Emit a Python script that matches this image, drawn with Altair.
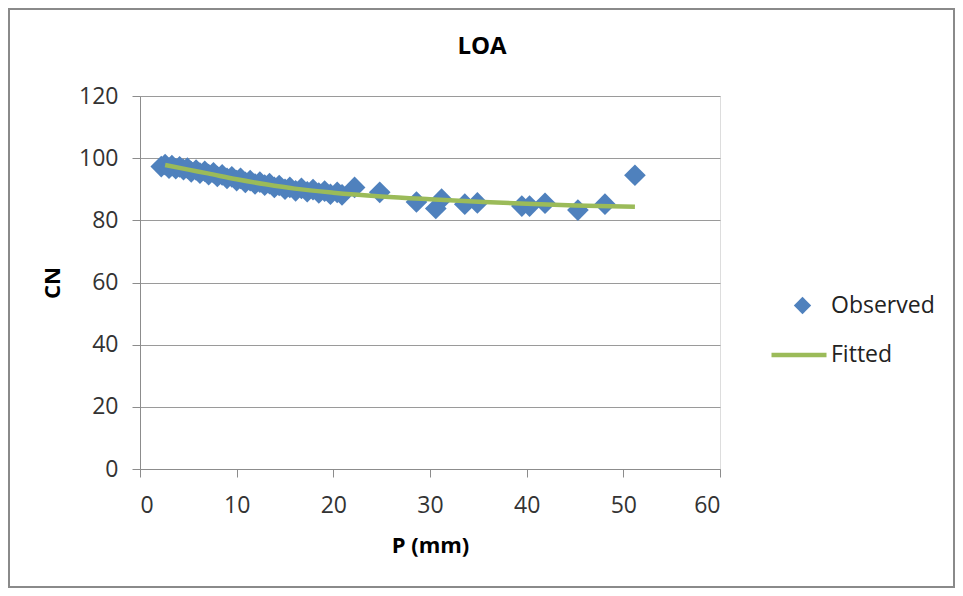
import altair as alt
import pandas as pd

# Observed points (P in mm, CN)
obs_p = [2.2, 2.6, 3.0, 3.3, 3.7, 4.1, 4.5, 4.9, 5.3, 5.8, 6.2, 6.7, 7.1, 7.6, 8.0,
         8.5, 9.0, 9.5, 10.0, 10.4, 10.9, 11.4, 11.9, 12.4, 12.9, 13.4, 13.9, 14.4,
         15.0, 15.5, 16.1, 16.7, 17.3, 17.9, 18.5, 19.1, 19.7, 20.4, 20.9, 22.2,
         24.8, 28.6, 30.6, 31.2, 33.6, 34.9, 39.5, 40.3, 41.9, 45.3, 48.1, 51.2]
obs_cn = [97.3, 97.9, 96.8, 97.6, 96.6, 97.2, 96.3, 96.8, 95.6, 96.2, 95.2, 95.8, 94.7,
          95.3, 94.1, 94.6, 93.5, 94.0, 92.8, 93.5, 92.2, 92.8, 91.7, 92.3, 91.3, 91.8,
          90.6, 91.2, 90.0, 90.6, 89.5, 90.3, 89.2, 89.9, 88.8, 89.4, 88.4, 89.0, 88.2,
          90.6, 89.0, 85.9, 83.8, 86.8, 85.2, 85.6, 84.6, 84.6, 85.5, 83.3, 85.2, 94.5]

# Fitted curve
fit_p = [2.6, 5, 7, 10, 13, 16, 20, 25, 30, 35, 40, 45, 51.2]
fit_cn = [97.8, 96.3, 95.1, 93.2, 91.6, 90.2, 88.9, 87.7, 86.8, 86.0, 85.3, 84.8, 84.4]

obs = pd.DataFrame({"P": obs_p, "CN": obs_cn, "series": "Observed"})
fit = pd.DataFrame({"P": fit_p, "CN": fit_cn, "series": "Fitted"})

FONT = "Open Sans"
BLUE = "#4f81bd"
GREEN = "#9bbb59"
W, H = 580, 373

xscale = alt.Scale(domain=[0, 60], nice=False)
yscale = alt.Scale(domain=[0, 120], nice=False)

xaxis = alt.Axis(title="P (mm)", values=[0, 10, 20, 30, 40, 50, 60], grid=False,
                 tickSize=8, labelPadding=17, titlePadding=18, domainColor="#8c8c8c",
                 tickColor="#8c8c8c", labelFontSize=23, titleFontSize=22,
                 labelColor="#333333", titleColor="#000000", titleFontWeight="bold",
                 labelFont=FONT, titleFont=FONT)
yaxis = alt.Axis(title="CN", values=[0, 20, 40, 60, 80, 100, 120], grid=True,
                 gridColor="#9a9a9a", tickSize=8, labelPadding=14, titlePadding=14,
                 domainColor="#8c8c8c", tickColor="#8c8c8c", labelFontSize=23,
                 titleFontSize=22, labelColor="#333333", titleColor="#000000",
                 titleFontWeight="bold", labelFont=FONT, titleFont=FONT)

border = alt.Chart(pd.DataFrame({"a": [0]})).mark_rect(
    fill="transparent", stroke="#8a8a8a", strokeWidth=2
).encode(x=alt.value(-131), x2=alt.value(814), y=alt.value(-87), y2=alt.value(491))

points = alt.Chart(obs).mark_point(
    shape="diamond", filled=True, size=470, opacity=1, color=BLUE
).encode(
    x=alt.X("P:Q", scale=xscale, axis=xaxis),
    y=alt.Y("CN:Q", scale=yscale, axis=yaxis),
    shape=alt.Shape("series:N", scale=alt.Scale(domain=["Observed"], range=["diamond"]),
                    legend=alt.Legend(title=None, orient="none", legendX=651, legendY=198,
                                      symbolSize=300, symbolFillColor=BLUE,
                                      symbolStrokeColor=BLUE, symbolStrokeWidth=0,
                                      labelFontSize=23, labelFont=FONT, labelColor="#222222",
                                      labelOffset=17, padding=0)),
)

line = alt.Chart(fit).mark_line(strokeWidth=4.5, interpolate="monotone").encode(
    x=alt.X("P:Q", scale=xscale),
    y=alt.Y("CN:Q", scale=yscale),
    stroke=alt.Stroke("series:N", scale=alt.Scale(domain=["Fitted"], range=[GREEN]),
                      legend=alt.Legend(title=None, orient="none", legendX=629, legendY=229,
                                        symbolType="stroke", symbolSize=3025,
                                        symbolStrokeWidth=4.5, labelFontSize=23,
                                        labelFont=FONT, labelColor="#222222",
                                        labelOffset=2, padding=0)),
)

chart = alt.layer(border, points, line).resolve_legend(shape="independent", stroke="independent").properties(
    width=W, height=H,
    autosize=alt.AutoSizeParams(type="none"),
    padding={"left": 132, "top": 88, "right": 235, "bottom": 119},
    title=alt.TitleParams("LOA", anchor="middle", frame="group", fontSize=24,
                          font=FONT, fontWeight="bold", color="#000000",
                          baseline="alphabetic", offset=-70, dx=52),
).configure_view(stroke=None).configure(background="white")

chart.save("out.html", embed_options={"renderer": "svg", "actions": False})
